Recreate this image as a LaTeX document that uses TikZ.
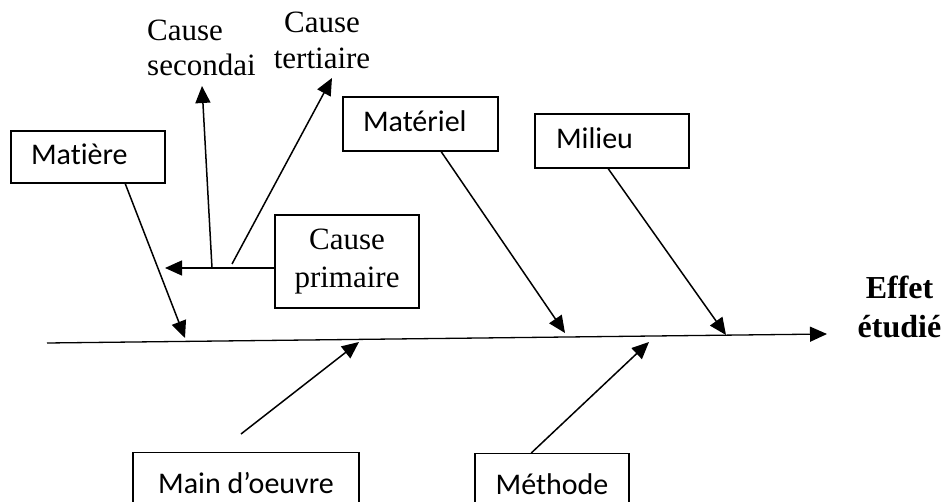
\documentclass[tikz,border=0pt]{standalone}
\usepackage{fontspec}
\setmainfont{Liberation Serif}
\newfontfamily\boxfont{Carlito}[Ligatures=NoCommon]
\usetikzlibrary{arrows.meta,calc}
\begin{document}
\begin{tikzpicture}[x=1pt,y=-1pt,
  arr/.style={line width=1.5pt,-{Triangle[length=17pt,width=15pt]}},
  cat/.style={draw,line width=1.5pt,font=\fontsize{30}{36}\selectfont\boxfont,
              inner ysep=0pt,text height=19pt,text depth=4pt,align=left},
  lbl/.style={inner sep=0pt,font=\fontsize{31}{36}\selectfont},
]
\useasboundingbox (0,0) rectangle (943,502);
\begin{scope}
\clip (0,0) rectangle (943,502);

% category boxes
\node[cat,text width=114pt,inner xsep=20pt,minimum height=52pt] (mat) at (88,157) {Matière};
\node[cat,text width=115pt,inner xsep=20pt,minimum height=54pt] (mtl) at (420.5,124) {Matériel};
\node[cat,text width=112pt,inner xsep=21pt,minimum height=54pt] (mil) at (612,141) {Milieu};
\node[cat,minimum width=226pt,minimum height=66pt,anchor=north] (mdo) at (246,452) {Main d’oeuvre};
\node[cat,minimum width=154pt,minimum height=66pt,anchor=north] (met) at (552,453) {Méthode};

% cause boxes and labels
\node[draw,line width=1.5pt,inner sep=0pt,minimum width=144pt,minimum height=93pt,
      align=center,font=\fontsize{31}{38}\selectfont] (cp) at (347,261.5) {Cause\\primaire};
\node[lbl,anchor=north west,align=left,font=\fontsize{31}{35}\selectfont] (sec) at (147,20) {Cause\\secondai};
\node[lbl,anchor=north,align=center] (ter) at (322,12) {Cause\\tertiaire};
\node[inner sep=0pt,anchor=north,align=center,font=\fontsize{32}{39}\selectfont\bfseries] (eff) at (899.5,276) {Effet\\étudié};

% spine
\coordinate (tail) at (47,343);
\coordinate (head) at (827,334);
\draw[arr,line width=1.3pt] (tail) -- (head);

% arrow tips on the spine
\coordinate (t1) at (185,338);
\coordinate (t2) at (565,333);
\coordinate (t3) at (726,335);
\coordinate (t4) at (359,342);
\coordinate (t5) at (649,342);
\coordinate (s4) at (241,434);

\draw[arr] ($(mat.south west)+(115,0)$) -- (t1);
\draw[arr] ($(mtl.south west)+(99,0)$) -- (t2);
\draw[arr] ($(mil.south west)+(74,0)$) -- (t3);
\draw[arr] (s4) -- (t4);
\draw[arr] ($(met.north west)+(57,0)$) -- (t5);

% sub-causes
\coordinate (hb) at (165,268);
\coordinate (j1) at (212,268);
\coordinate (j2) at (232,264);
\coordinate (u1) at (202,86);
\coordinate (u2) at (332,78);
\draw[arr] (cp.west |- hb) -- (hb);
\draw[arr] (j1) -- (u1);
\draw[arr] (j2) -- (u2);
\end{scope}
\end{tikzpicture}
\end{document}
